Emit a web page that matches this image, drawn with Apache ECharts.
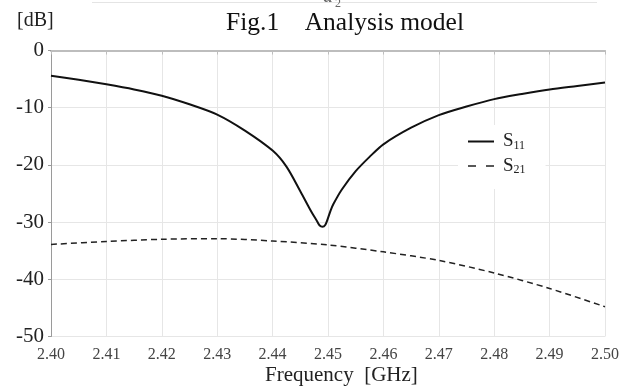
<!DOCTYPE html>
<html>
<head>
<meta charset="utf-8">
<script src="https://cdn.jsdelivr.net/npm/echarts@6/dist/echarts.min.js"></script>
<style>
html, body { margin: 0; padding: 0; background: #fff; }
#main { width: 632px; height: 391px; }
</style>
</head>
<body>
<div id="main"></div>
<script>
// S11 (反射) 频率/dB
var s11Freq = [2.400, 2.405, 2.410, 2.415, 2.420, 2.425, 2.430, 2.435, 2.440, 2.4425, 2.445, 2.447, 2.448, 2.4485,
	2.449, 2.4495, 2.450, 2.4505, 2.451, 2.4525, 2.455, 2.4575, 2.460, 2.465, 2.470, 2.475, 2.480, 2.485, 2.490, 2.495, 2.500];
var s11Db = [-4.4, -5.1, -5.9, -6.8, -7.9, -9.4, -11.2, -14.0, -17.5, -20.3, -24.6, -28.2, -29.8, -30.6,
	-30.8, -30.5, -29.3, -27.9, -26.8, -24.3, -21.1, -18.6, -16.4, -13.5, -11.3, -9.8, -8.5, -7.6, -6.8, -6.2, -5.6];
// S21 (传输)
var s21Freq = [2.40, 2.41, 2.42, 2.43, 2.44, 2.45, 2.46, 2.47, 2.48, 2.49, 2.50];
var s21Db = [-33.9, -33.4, -33.0, -32.9, -33.3, -34.0, -35.2, -36.7, -38.9, -41.6, -44.8];

var serif = 'Liberation Serif';

function pairs(xs, ys) {
	var out = [];
	for(var i = 0; i < xs.length; i++) {
		out.push([xs[i], ys[i]]);
	}
	return out;
}

var chart = echarts.init(document.getElementById('main'));
chart.setOption({
	animation: false,
	backgroundColor: '#fff',
	title: [{
			text: 'Fig.1    Analysis model',
			left: 226,
			top: 10,
			padding: 0,
			textStyle: { fontFamily: serif, fontSize: 25.5, fontWeight: 'normal', color: '#111' }
		},
		{
			text: '[dB]',
			left: 17,
			top: 11,
			padding: 0,
			textStyle: { fontFamily: serif, fontSize: 20, fontWeight: 'normal', color: '#222' }
		},
		{
			text: 'Frequency  [GHz]',
			left: 265,
			top: 365,
			padding: 0,
			textStyle: { fontFamily: serif, fontSize: 21, fontWeight: 'normal', color: '#222' }
		}
	],
	graphic: [{
			type: 'line',
			shape: { x1: 92, y1: 2.5, x2: 597, y2: 2.5 },
			style: { stroke: '#e4e4e4', lineWidth: 1 }
		},
		{
			type: 'text',
			left: 323,
			top: -13,
			style: { text: 'a', font: 'italic 20px "Liberation Serif"', fill: '#666' }
		},
		{
			type: 'text',
			left: 335,
			top: -2,
			style: { text: '2', font: '12px "Liberation Serif"', fill: '#666' }
		}
	],
	legend: {
		orient: 'vertical',
		left: 458,
		top: 125,
		padding: [7, 20, 13, 10],
		backgroundColor: '#fff',
		itemWidth: 26,
		itemHeight: 10,
		itemGap: 5,
		data: [{
				name: 'S11',
				icon: 'path://M0,0h26v2h-26z'
			},
			{
				name: 'S21',
				icon: 'path://M0,0h8v1.6h-8z M18,0h8v1.6h-8z'
			}
		],
		formatter: function(name) {
			return '{s|S}{sub|' + name.slice(1) + '}';
		},
		textStyle: {
			rich: {
				s: { fontFamily: serif, fontSize: 19, color: '#222', lineHeight: 20, padding: [0, 0, 0, 4] },
				sub: { fontFamily: serif, fontSize: 12, color: '#222', lineHeight: 20, verticalAlign: 'bottom' }
			}
		}
	},
	grid: {
		left: 51,
		right: 27,
		top: 50.5,
		bottom: 54.5,
		containLabel: false
	},
	xAxis: {
		type: 'value',
		min: 2.40,
		max: 2.50,
		interval: 0.01,
		axisLine: { lineStyle: { color: '#bdbdbd', width: 2 } },
		axisTick: { show: true, length: 4, lineStyle: { color: '#bdbdbd' } },
		axisLabel: {
			margin: 10,
			fontFamily: serif,
			fontSize: 16,
			color: '#444',
			formatter: function(v) {
				return v.toFixed(2);
			}
		},
		splitLine: { show: true, lineStyle: { color: '#e6e6e6', width: 1 } }
	},
	yAxis: {
		type: 'value',
		min: -50,
		max: 0,
		interval: 10,
		axisLine: { show: true, lineStyle: { color: '#9a9a9a', width: 1 } },
		axisTick: { show: true, length: 3, lineStyle: { color: '#9a9a9a' } },
		axisLabel: {
			margin: 7,
			fontFamily: serif,
			fontSize: 21,
			color: '#222'
		},
		splitLine: { show: true, lineStyle: { color: '#e6e6e6', width: 1 } }
	},
	series: [{
			name: 'S11',
			type: 'line',
			data: pairs(s11Freq, s11Db),
			symbol: 'none',
			smooth: 0.3,
			lineStyle: { color: '#111', width: 2, type: 'solid' },
			itemStyle: { color: '#111' }
		},
		{
			name: 'S21',
			type: 'line',
			data: pairs(s21Freq, s21Db),
			symbol: 'none',
			smooth: 0.3,
			lineStyle: { color: '#222', width: 1.5, type: [6, 4] },
			itemStyle: { color: '#222' }
		}
	]
});
window.onresize = function() {
	chart.resize();
};
</script>
</body>
</html>
